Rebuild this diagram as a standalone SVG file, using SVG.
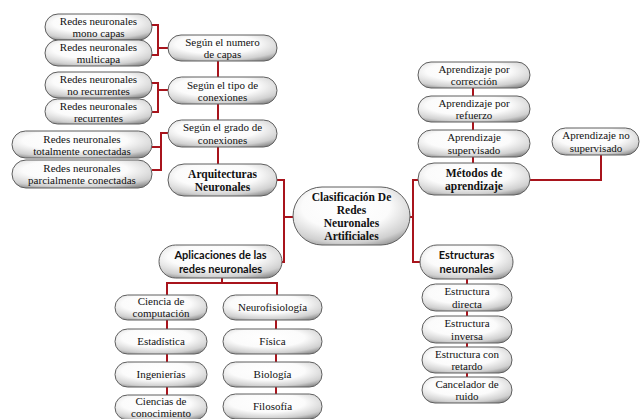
<svg xmlns="http://www.w3.org/2000/svg" width="640" height="419" viewBox="0 0 640 419">
<defs>
<radialGradient id="g" cx="0.45" cy="0.35" r="0.75">
<stop offset="0" stop-color="#ffffff"/>
<stop offset="0.5" stop-color="#fbfbfb"/>
<stop offset="0.82" stop-color="#d0d0d0"/>
<stop offset="1" stop-color="#8f8f8f"/>
</radialGradient>
</defs>
<style>
.n rect{fill:url(#g);stroke:#5e5e5e;stroke-width:1}
.n text{font-family:'Liberation Serif',serif;font-size:11px;fill:#111;text-anchor:middle}
.b text{font-weight:bold;font-size:11.5px}
.s text{font-family:Lato,'Liberation Sans',sans-serif;font-weight:bold;font-size:11px}
.c path{fill:none;stroke:#a8141c;stroke-width:2}
</style>
<rect width="640" height="419" fill="#ffffff"/>
<g class="c" id="connectors">
<path d="M152,25 H158 V55 H152 M158,48 H168"/>
<path d="M152,83 H158 V112 H152 M158,90 H168"/>
<path d="M168,133 H161 V170 H152 M152,147 H161"/>
<path d="M218,60 V164"/>
<path d="M277,180 H284 V262 H281 M284,217 H293"/>
<path d="M410,217 H413 M418,180 H413 V262 H420"/>
<path d="M473,88 V163"/>
<path d="M530,180 H601 V155"/>
<path d="M222,278 V283 M167,295 V283 H277 V295"/>
<path d="M167,320 V395"/>
<path d="M276,320 V394"/>
<path d="M467,279 V377"/>
</g>
<g class="n" id="n-mono"><rect x="45" y="14" width="107" height="26" rx="13"/><text x="98.5" y="25">Redes neuronales</text><text x="98.5" y="37">mono capas</text></g>
<g class="n" id="n-multi"><rect x="45" y="40" width="107" height="26" rx="13"/><text x="98.5" y="51">Redes neuronales</text><text x="98.5" y="63">multicapa</text></g>
<g class="n" id="n-numero"><rect x="168" y="35" width="109" height="26" rx="13"/><text x="222.5" y="46">Según el numero</text><text x="222.5" y="58">de capas</text></g>
<g class="n" id="n-norec"><rect x="45" y="72" width="107" height="26" rx="13"/><text x="98.5" y="83">Redes neuronales</text><text x="98.5" y="95">no recurrentes</text></g>
<g class="n" id="n-rec"><rect x="45" y="99" width="107" height="25" rx="12.5"/><text x="98.5" y="110">Redes neuronales</text><text x="98.5" y="122">recurrentes</text></g>
<g class="n" id="n-tipo"><rect x="168" y="77" width="109" height="27" rx="13.5"/><text x="222.5" y="89">Según el tipo de</text><text x="222.5" y="101">conexiones</text></g>
<g class="n" id="n-grado"><rect x="168" y="120" width="109" height="27" rx="13.5"/><text x="222.5" y="131">Según el grado de</text><text x="222.5" y="144">conexiones</text></g>
<g class="n" id="n-total"><rect x="12" y="131" width="140" height="27" rx="13.5"/><text x="82" y="143">Redes neuronales</text><text x="82" y="155">totalmente conectadas</text></g>
<g class="n" id="n-parcial"><rect x="12" y="160" width="140" height="28" rx="14"/><text x="82" y="172">Redes neuronales</text><text x="82" y="184">parcialmente conectadas</text></g>
<g class="n b" id="n-arq"><rect x="168" y="164" width="109" height="32" rx="16"/><text x="222.5" y="178">Arquitecturas</text><text x="222.5" y="191">Neuronales</text></g>
<g class="n b" id="n-central"><rect x="293" y="187" width="117" height="58" rx="29"/><text x="351.5" y="201">Clasificación De</text><text x="351.5" y="214">Redes</text><text x="351.5" y="227">Neuronales</text><text x="351.5" y="240">Artificiales</text></g>
<g class="n" id="n-correccion"><rect x="418" y="62" width="112" height="26" rx="13"/><text x="474" y="73">Aprendizaje por</text><text x="474" y="85">corrección</text></g>
<g class="n" id="n-refuerzo"><rect x="418" y="96" width="112" height="26" rx="13"/><text x="474" y="107">Aprendizaje por</text><text x="474" y="119">refuerzo</text></g>
<g class="n" id="n-supervisado"><rect x="418" y="130" width="112" height="27" rx="13.5"/><text x="474" y="141">Aprendizaje</text><text x="474" y="154">supervisado</text></g>
<g class="n b" id="n-metodos"><rect x="418" y="163" width="112" height="32" rx="16"/><text x="474" y="177">Métodos de</text><text x="474" y="190">aprendizaje</text></g>
<g class="n" id="n-nosup"><rect x="552" y="128" width="87" height="27" rx="13.5"/><text x="596" y="139">Aprendizaje no</text><text x="596" y="152">supervisado</text></g>
<g class="n s" id="n-aplic"><rect x="159" y="245" width="123" height="33" rx="16.5"/><text x="220.5" y="259">Aplicaciones de las</text><text x="220.5" y="273">redes neuronales</text></g>
<g class="n" id="n-ccomp"><rect x="115" y="295" width="92" height="25" rx="12.5"/><text x="161" y="305">Ciencia de</text><text x="161" y="317">computación</text></g>
<g class="n" id="n-estad"><rect x="115" y="329" width="92" height="25" rx="12.5"/><text x="161" y="345">Estadística</text></g>
<g class="n" id="n-ing"><rect x="115" y="362" width="92" height="25" rx="12.5"/><text x="161" y="378">Ingenierías</text></g>
<g class="n" id="n-cconoc"><rect x="115" y="395" width="92" height="25" rx="12.5"/><text x="161" y="405">Ciencias de</text><text x="161" y="417">conocimiento</text></g>
<g class="n" id="n-neuro"><rect x="223" y="295" width="99" height="25" rx="12.5"/><text x="272.5" y="311">Neurofisiología</text></g>
<g class="n" id="n-fisica"><rect x="223" y="329" width="99" height="25" rx="12.5"/><text x="272.5" y="345">Física</text></g>
<g class="n" id="n-bio"><rect x="223" y="362" width="99" height="25" rx="12.5"/><text x="272.5" y="378">Biología</text></g>
<g class="n" id="n-filo"><rect x="223" y="394" width="99" height="25" rx="12.5"/><text x="272.5" y="410">Filosofía</text></g>
<g class="n s" id="n-estruct"><rect x="420" y="245" width="93" height="34" rx="17"/><text x="466.5" y="259">Estructuras</text><text x="466.5" y="273">neuronales</text></g>
<g class="n" id="n-directa"><rect x="422" y="284" width="90" height="27" rx="13.5"/><text x="467" y="295">Estructura</text><text x="467" y="308">directa</text></g>
<g class="n" id="n-inversa"><rect x="422" y="316" width="90" height="27" rx="13.5"/><text x="467" y="327">Estructura</text><text x="467" y="340">inversa</text></g>
<g class="n" id="n-retardo"><rect x="422" y="347" width="90" height="26" rx="13"/><text x="467" y="358">Estructura con</text><text x="467" y="370">retardo</text></g>
<g class="n" id="n-cancel"><rect x="422" y="377" width="90" height="26" rx="13"/><text x="467" y="388">Cancelador de</text><text x="467" y="400">ruido</text></g>
</svg>
